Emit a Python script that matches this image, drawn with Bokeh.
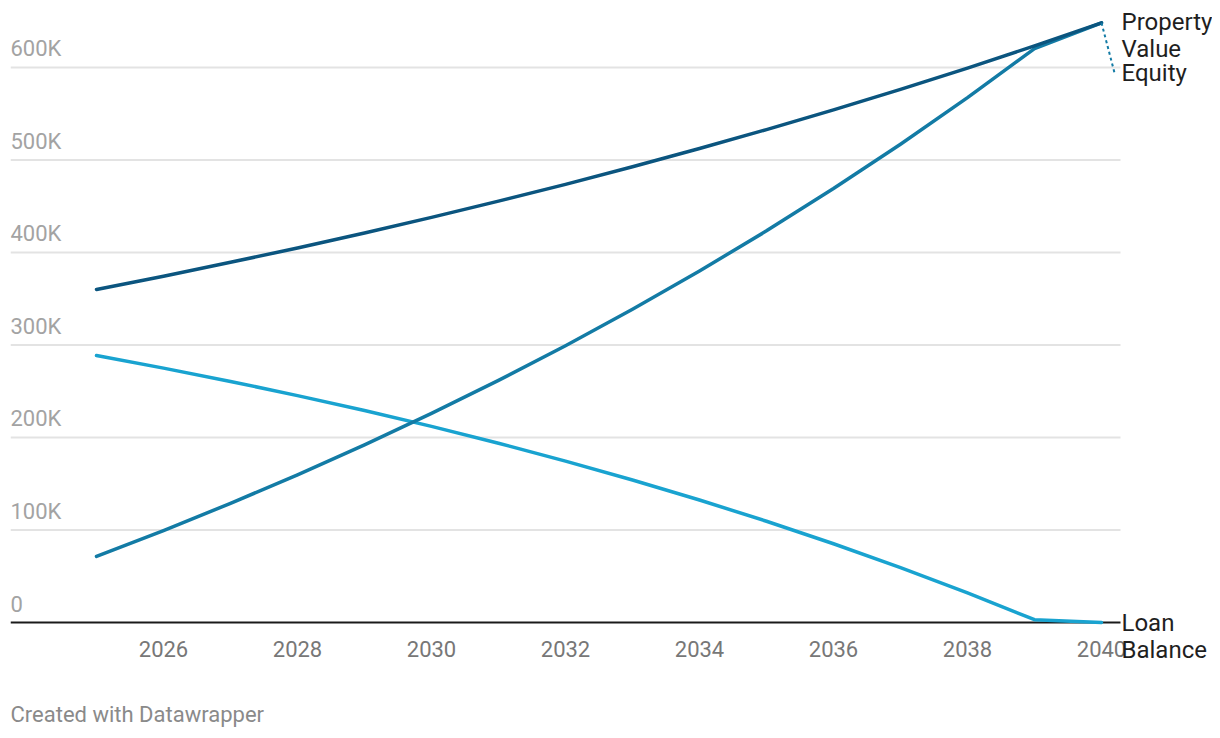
from bokeh.plotting import figure
from bokeh.models import Range1d, ColumnDataSource
from bokeh.core.properties import value
from bokeh.embed import file_html
from bokeh.resources import INLINE

# ---- data (values in thousands of dollars) ----
years = list(range(2025, 2041))
property_value = [360.0, 374.4, 389.4, 404.9, 421.1, 438.0, 455.5, 473.7,
                  492.7, 512.4, 532.9, 554.2, 576.4, 599.4, 623.4, 648.3]
loan_balance = [288.6, 275.0, 260.6, 245.3, 229.1, 212.0, 193.8, 174.5,
                154.1, 132.4, 109.5, 85.1, 59.3, 32.0, 3.0, 0.0]
equity = [71.4, 99.4, 128.8, 159.6, 192.0, 226.0, 261.7, 299.2,
          338.6, 380.0, 423.4, 469.1, 517.1, 567.4, 620.4, 648.3]

y_ticks = [0, 100, 200, 300, 400, 500, 600]
y_tick_labels = ["0", "100K", "200K", "300K", "400K", "500K", "600K"]
x_ticks = [2026, 2028, 2030, 2032, 2034, 2036, 2038, 2040]
x_tick_labels = [str(t) for t in x_ticks]

# ---- styling / geometry ----
FONT = "Roboto"
C_PROP = "#0b557f"
C_EQ = "#137ba5"
C_LOAN = "#19a3d0"

W, H = 1212, 730
LEFT = 10
PX_YEAR = 67.0          # pixels per year
PX_K = 0.925            # pixels per thousand
LEFT_PAD = 86           # pixels from frame left to first year
ZERO_Y = 622            # pixel row of the zero line
x_start = years[0] - LEFT_PAD / PX_YEAR
x_end = x_start + (W - LEFT) / PX_YEAR
y_end = ZERO_Y / PX_K
y_start = y_end - H / PX_K
x_grid_end = years[-1] + 19 / PX_YEAR

p = figure(width=W, height=H, output_backend="svg", toolbar_location=None,
           x_range=Range1d(x_start, x_end), y_range=Range1d(y_start, y_end),
           x_axis_location=None, y_axis_location=None,
           min_border_left=LEFT, min_border_right=0, min_border_top=0,
           min_border_bottom=0)
p.outline_line_color = None
p.background_fill_color = "white"
p.border_fill_color = "white"
p.xgrid.visible = False
p.ygrid.visible = False

# gridlines
grid_y = [t for t in y_ticks if t != 0]
p.segment(x0=[x_start] * len(grid_y), y0=grid_y, x1=[x_grid_end] * len(grid_y),
          y1=grid_y, line_color="#e3e3e3", line_width=2)
# baseline
p.segment(x0=[x_start], y0=[0], x1=[x_grid_end], y1=[0], line_color="#1a1a1a", line_width=2)

# y tick labels above gridlines
p.text(x=[x_start] * len(y_ticks), y=y_ticks, text=y_tick_labels,
       text_font=value(FONT), text_font_size="22px", text_color="#a3a3a3",
       text_baseline="middle", text_align="left", y_offset=-19)

# x tick labels
p.text(x=x_ticks, y=[0] * len(x_ticks), text=x_tick_labels,
       text_font=value(FONT), text_font_size="22px", text_color="#777777",
       text_baseline="middle", text_align="center", y_offset=26)

# data lines
src = ColumnDataSource(dict(year=years, prop=property_value, loan=loan_balance, eq=equity))
p.line("year", "loan", source=src, line_color=C_LOAN, line_width=3.5,
       line_cap="round", line_join="round")
p.line("year", "eq", source=src, line_color=C_EQ, line_width=3.5,
       line_cap="round", line_join="round")
p.line("year", "prop", source=src, line_color=C_PROP, line_width=3.5,
       line_cap="round", line_join="round")

# equity label connector (dotted)
eq_end_y = equity[-1]
conn_x = years[-1] + 13 / PX_YEAR
conn_y = eq_end_y - 50 / PX_K
p.segment(x0=[years[-1]], y0=[eq_end_y], x1=[conn_x], y1=[conn_y],
          line_color=C_EQ, line_width=2, line_dash="3 3")

# line labels
lab_kw = dict(text_font=value(FONT), text_font_size="24px", text_color="#1f1f1f",
              text_baseline="middle", text_align="left", x_offset=20)
p.text(x=[years[-1]] * 3, y=[property_value[-1]] * 3,
       text=["Property", "Value", "Equity"], y_offset=[-1, 26, 50], **lab_kw)
p.text(x=[years[-1]] * 2, y=[loan_balance[-1]] * 2,
       text=["Loan", "Balance"], y_offset=[0, 27], **lab_kw)

# footer
p.text(x=[x_start], y=[0], text=["Created with Datawrapper"],
       text_font=value(FONT), text_font_size="22px", text_color="#8a8a8a",
       text_baseline="middle", text_align="left", y_offset=92)

open("out.html", "w").write(file_html(p, INLINE))
